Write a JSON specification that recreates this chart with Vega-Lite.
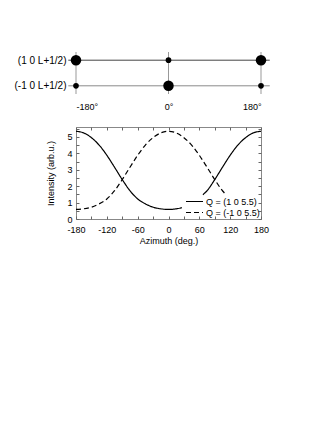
{
  "$schema": "https://vega.github.io/schema/vega-lite/v6.json",
  "padding": {"left": 14, "top": 51, "right": 5, "bottom": 5},
  "background": "white",
  "config": {
    "font": "Liberation Sans",
    "view": {"stroke": null},
    "axis": {"labelFont": "Liberation Sans", "titleFont": "Liberation Sans", "labelColor": "#000", "titleColor": "#000", "titleFontWeight": "normal", "labelFontSize": 9, "titleFontSize": 9, "grid": false},
    "legend": {"labelFont": "Liberation Sans"}
  },
  "datasets": {
    "dots": [
      {"az": -180, "Q": "(1 0 L+1/2)", "w": "strong"},
      {"az": 0, "Q": "(1 0 L+1/2)", "w": "weak"},
      {"az": 180, "Q": "(1 0 L+1/2)", "w": "strong"},
      {"az": -180, "Q": "(-1 0 L+1/2)", "w": "weak"},
      {"az": 0, "Q": "(-1 0 L+1/2)", "w": "strong"},
      {"az": 180, "Q": "(-1 0 L+1/2)", "w": "weak"}
    ],
    "hlines": [
      {"Q": "(1 0 L+1/2)", "from": -195, "to": 197},
      {"Q": "(-1 0 L+1/2)", "from": -195, "to": 197}
    ],
    "vlines": [{"az": -180}, {"az": 0}, {"az": 180}],
    "curves": [
      {"s": "Q = (1 0 5.5)", "seg": "a", "az": -180, "I": 5.34},
      {"s": "Q = (1 0 5.5)", "seg": "a", "az": -165, "I": 5.24},
      {"s": "Q = (1 0 5.5)", "seg": "a", "az": -150, "I": 4.95},
      {"s": "Q = (1 0 5.5)", "seg": "a", "az": -135, "I": 4.5},
      {"s": "Q = (1 0 5.5)", "seg": "a", "az": -120, "I": 3.88},
      {"s": "Q = (1 0 5.5)", "seg": "a", "az": -105, "I": 3.15},
      {"s": "Q = (1 0 5.5)", "seg": "a", "az": -90, "I": 2.4},
      {"s": "Q = (1 0 5.5)", "seg": "a", "az": -75, "I": 1.72},
      {"s": "Q = (1 0 5.5)", "seg": "a", "az": -60, "I": 1.22},
      {"s": "Q = (1 0 5.5)", "seg": "a", "az": -45, "I": 0.92},
      {"s": "Q = (1 0 5.5)", "seg": "a", "az": -30, "I": 0.72},
      {"s": "Q = (1 0 5.5)", "seg": "a", "az": -15, "I": 0.62},
      {"s": "Q = (1 0 5.5)", "seg": "a", "az": 0, "I": 0.58},
      {"s": "Q = (1 0 5.5)", "seg": "a", "az": 15, "I": 0.62},
      {"s": "Q = (1 0 5.5)", "seg": "a", "az": 26, "I": 0.69},
      {"s": "Q = (1 0 5.5)", "seg": "b", "az": 67, "I": 1.48},
      {"s": "Q = (1 0 5.5)", "seg": "b", "az": 75, "I": 1.72},
      {"s": "Q = (1 0 5.5)", "seg": "b", "az": 90, "I": 2.4},
      {"s": "Q = (1 0 5.5)", "seg": "b", "az": 105, "I": 3.15},
      {"s": "Q = (1 0 5.5)", "seg": "b", "az": 120, "I": 3.88},
      {"s": "Q = (1 0 5.5)", "seg": "b", "az": 135, "I": 4.5},
      {"s": "Q = (1 0 5.5)", "seg": "b", "az": 150, "I": 4.95},
      {"s": "Q = (1 0 5.5)", "seg": "b", "az": 165, "I": 5.24},
      {"s": "Q = (1 0 5.5)", "seg": "b", "az": 180, "I": 5.34},
      {"s": "Q = (-1 0 5.5)", "seg": "c", "az": -180, "I": 0.58},
      {"s": "Q = (-1 0 5.5)", "seg": "c", "az": -165, "I": 0.62},
      {"s": "Q = (-1 0 5.5)", "seg": "c", "az": -150, "I": 0.72},
      {"s": "Q = (-1 0 5.5)", "seg": "c", "az": -135, "I": 0.92},
      {"s": "Q = (-1 0 5.5)", "seg": "c", "az": -120, "I": 1.22},
      {"s": "Q = (-1 0 5.5)", "seg": "c", "az": -105, "I": 1.72},
      {"s": "Q = (-1 0 5.5)", "seg": "c", "az": -90, "I": 2.4},
      {"s": "Q = (-1 0 5.5)", "seg": "c", "az": -75, "I": 3.15},
      {"s": "Q = (-1 0 5.5)", "seg": "c", "az": -60, "I": 3.88},
      {"s": "Q = (-1 0 5.5)", "seg": "c", "az": -45, "I": 4.5},
      {"s": "Q = (-1 0 5.5)", "seg": "c", "az": -30, "I": 4.95},
      {"s": "Q = (-1 0 5.5)", "seg": "c", "az": -15, "I": 5.24},
      {"s": "Q = (-1 0 5.5)", "seg": "c", "az": 0, "I": 5.34},
      {"s": "Q = (-1 0 5.5)", "seg": "c", "az": 15, "I": 5.24},
      {"s": "Q = (-1 0 5.5)", "seg": "c", "az": 30, "I": 4.95},
      {"s": "Q = (-1 0 5.5)", "seg": "c", "az": 45, "I": 4.5},
      {"s": "Q = (-1 0 5.5)", "seg": "c", "az": 60, "I": 3.88},
      {"s": "Q = (-1 0 5.5)", "seg": "c", "az": 75, "I": 3.15},
      {"s": "Q = (-1 0 5.5)", "seg": "c", "az": 90, "I": 2.4},
      {"s": "Q = (-1 0 5.5)", "seg": "c", "az": 105, "I": 1.72},
      {"s": "Q = (-1 0 5.5)", "seg": "c", "az": 112, "I": 1.48}
    ]
  },
  "vconcat": [
    {
      "width": 185,
      "height": 42,
      "layer": [
        {
          "data": {"name": "vlines"},
          "mark": {"type": "rule", "color": "#999", "strokeWidth": 1},
          "encoding": {
            "x": {"field": "az", "type": "quantitative", "scale": {"domain": [-180, 180], "nice": false, "zero": false},
              "axis": {"values": [-180, 0, 180], "labelExpr": "datum.value + '°'", "ticks": false, "domain": false, "labelPadding": 8, "title": null, "labelFontSize": 9}}
          }
        },
        {
          "data": {"name": "hlines"},
          "mark": {"type": "rule", "strokeWidth": 1},
          "encoding": {
            "x": {"field": "from", "type": "quantitative", "title": null},
            "x2": {"field": "to"},
            "y": {"field": "Q", "type": "nominal", "sort": ["(1 0 L+1/2)", "(-1 0 L+1/2)"], "scale": {"type": "point", "padding": 0.32},
              "axis": {"ticks": false, "domain": false, "labelPadding": 10, "title": null, "labelFontSize": 10}},
            "color": {"field": "Q", "type": "nominal", "scale": {"domain": ["(1 0 L+1/2)", "(-1 0 L+1/2)"], "range": ["#444", "#8a8a8a"]}, "legend": null}
          }
        },
        {
          "data": {"name": "dots"},
          "mark": {"type": "circle", "color": "#000", "opacity": 1},
          "encoding": {
            "x": {"field": "az", "type": "quantitative", "title": null},
            "y": {"field": "Q", "type": "nominal", "sort": ["(1 0 L+1/2)", "(-1 0 L+1/2)"]},
            "size": {"field": "w", "type": "nominal", "scale": {"domain": ["weak", "strong"], "range": [32, 110]}, "legend": null}
          }
        }
      ]
    },
    {
      "width": 185,
      "height": 92,
      "view": {"stroke": "#888", "strokeWidth": 1},
      "data": {"name": "curves"},
      "layer": [
        {
          "mark": {"type": "line", "color": "#000", "strokeWidth": 1.2, "interpolate": "monotone"},
          "encoding": {
            "x": {"field": "az", "type": "quantitative", "scale": {"domain": [-180, 180], "nice": false},
              "axis": {"title": "Azimuth (deg.)", "values": [-180, -150, -120, -90, -60, -30, 0, 30, 60, 90, 120, 150, 180], "labelExpr": "datum.value % 60 == 0 ? datum.value : ''", "tickSize": -3, "tickColor": "#666", "domain": false, "labelPadding": 9, "titlePadding": 2, "labelFlush": false}},
            "y": {"field": "I", "type": "quantitative", "scale": {"domain": [0, 5.6], "nice": false},
              "axis": {"title": "Intensity (arb.u.)", "values": [0, 0.5, 1, 1.5, 2, 2.5, 3, 3.5, 4, 4.5, 5, 5.5], "labelExpr": "datum.value % 1 == 0 ? datum.value : ''", "tickSize": -3, "tickColor": "#666", "domain": false, "labelPadding": 7, "titlePadding": 11, "labelFlush": false}},
            "detail": {"field": "seg", "type": "nominal"},
            "strokeDash": {"field": "s", "type": "nominal", "scale": {"domain": ["Q = (1 0 5.5)", "Q = (-1 0 5.5)"], "range": [[1, 0], [5, 3]]},
              "legend": {"title": null, "orient": "none", "legendX": 109, "legendY": 144, "symbolType": "stroke", "symbolSize": 289, "symbolStrokeWidth": 1.2, "symbolStrokeColor": "#000", "labelFontSize": 9, "labelOffset": 2, "clipHeight": 11, "padding": 0, "rowPadding": 0}}
          }
        },
        {
          "mark": {"type": "point", "opacity": 0},
          "encoding": {
            "x": {"field": "az", "type": "quantitative",
              "axis": {"orient": "top", "title": null, "labels": false, "values": [-180, -150, -120, -90, -60, -30, 0, 30, 60, 90, 120, 150, 180], "tickSize": -3, "tickColor": "#666", "domain": false}},
            "y": {"field": "I", "type": "quantitative",
              "axis": {"orient": "right", "title": null, "labels": false, "values": [0, 0.5, 1, 1.5, 2, 2.5, 3, 3.5, 4, 4.5, 5, 5.5], "tickSize": -3, "tickColor": "#666", "domain": false}}
          }
        }
      ],
      "resolve": {"axis": {"x": "independent", "y": "independent"}}
    }
  ],
  "spacing": 15
}
